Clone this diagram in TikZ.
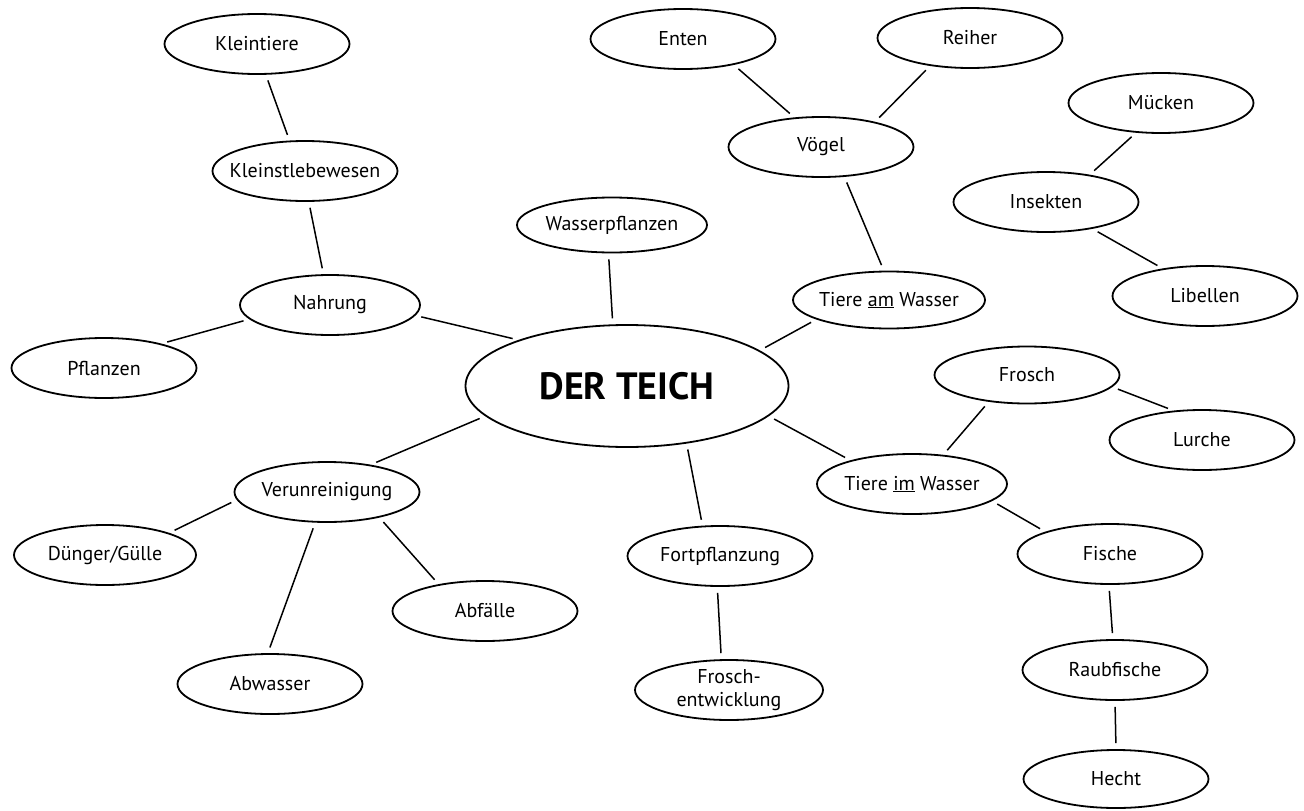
\documentclass[tikz,border=0pt]{standalone}
\usepackage{fontspec}
\setmainfont{PT Sans}
\usetikzlibrary{shapes.geometric}
\tikzset{
  bub/.style={draw, ellipse, line width=1.8pt, minimum width=185pt, minimum height=60pt, inner xsep=-25pt, inner ysep=-8pt, align=center, font=\fontsize{20}{24}\selectfont},
  big/.style={bub, minimum width=323pt, minimum height=122pt, font=\bfseries\fontsize{38}{42}\selectfont},
  conn/.style={line width=1.5pt, shorten <=6pt, shorten >=6pt}
}
\begin{document}
\begin{tikzpicture}[x=1pt, y=-1pt]
\useasboundingbox[fill=white] (0,0) rectangle (1304,811);
\node[big] (teich) at (627,386) {DER TEICH};
\node[bub] (kleintiere) at (257,44) {Kleintiere};
\node[bub] (kleinst) at (305,171) {Kleinstlebewesen};
\node[bub, minimum width=180pt] (nahrung) at (330,305) {Nahrung};
\node[bub] (pflanzen) at (104,368) {Pflanzen};
\node[bub, minimum width=190pt, minimum height=55pt] (wasserpfl) at (612,225) {Wasserpflanzen};
\node[bub] (enten) at (683,39) {Enten};
\node[bub] (reiher) at (970,38) {Reiher};
\node[bub] (voegel) at (821,147) {Vögel};
\node[bub] (muecken) at (1161,103) {Mücken};
\node[bub] (insekten) at (1046,202) {Insekten};
\node[bub] (libellen) at (1205,296) {Libellen};
\node[bub, minimum width=192pt, minimum height=57pt] (amwasser) at (889,300) {Tiere \underline{am} Wasser};
\node[bub, minimum height=57pt] (frosch) at (1027,375) {Frosch};
\node[bub] (lurche) at (1202,440) {Lurche};
\node[bub, minimum width=190pt] (imwasser) at (912,484) {Tiere \underline{im} Wasser};
\node[bub] (fische) at (1110,554) {Fische};
\node[bub] (raub) at (1115,670) {Raubfische};
\node[bub, minimum height=58pt] (hecht) at (1116,779) {Hecht};
\node[bub] (verun) at (327,492) {Verunreinigung};
\node[bub, minimum width=182pt] (duenger) at (105,555) {Dünger/Gülle};
\node[bub] (abfaelle) at (485,611) {Abfälle};
\node[bub] (abwasser) at (270,684) {Abwasser};
\node[bub] (fort) at (720,556) {Fortpflanzung};
\node[bub, minimum width=188pt, font=\fontsize{20}{23}\selectfont] (froschentw) at (729,690) {Frosch-\\entwicklung};

\draw[conn] (kleintiere.-74) -- (kleinst.117);
\draw[conn] (kleinst.-83) -- (nahrung.102);
\draw[conn] (nahrung.190) -- (pflanzen.23);
\draw[conn] (nahrung.-7) -- (teich.157);
\draw[conn] (wasserpfl.-97) -- (teich.103);
\draw[conn] (enten.-27) -- (voegel.132);
\draw[conn] (reiher.-145) -- (voegel.25);
\draw[conn] (voegel.-52) -- (amwasser.100);
\draw[conn] (amwasser.-165) -- (teich.15);
\draw[conn] (muecken.-130) -- (insekten.32);
\draw[conn] (insekten.-30) -- (libellen.147);
\draw[conn] (frosch.-8) -- (lurche.134);
\draw[conn] (frosch.-145) -- (imwasser.43);
\draw[conn] (teich.-12.5) -- (imwasser.159);
\draw[conn] (imwasser.-12.5) -- (fische.161);
\draw[conn] (fische.-92) -- (raub.94);
\draw[conn] (raub.-90) -- (hecht.90);
\draw[conn] (teich.-168) -- (verun.32);
\draw[conn] (verun.-175) -- (duenger.19);
\draw[conn] (verun.-111) -- (abwasser.94);
\draw[conn] (verun.-26) -- (abfaelle.150);
\draw[conn] (teich.-44.5) -- (fort.120);
\draw[conn] (fort.-95) -- (froschentw.104);
\end{tikzpicture}
\end{document}
